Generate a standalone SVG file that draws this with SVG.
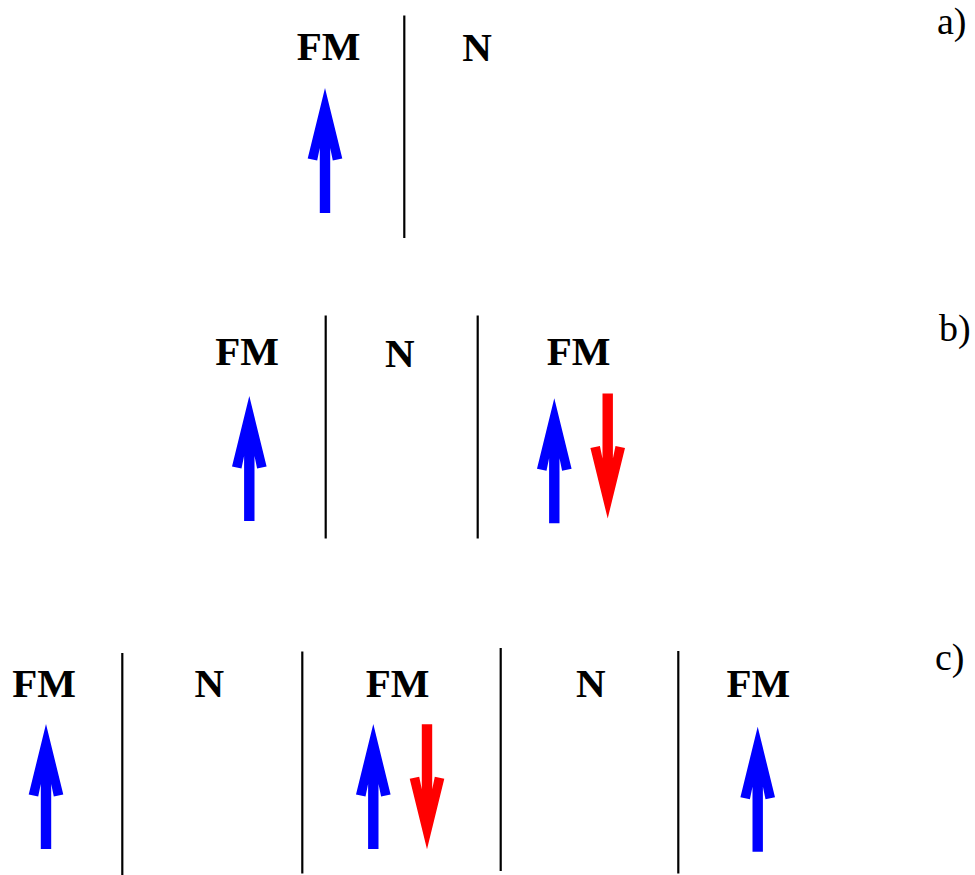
<svg xmlns="http://www.w3.org/2000/svg" width="975" height="875" viewBox="0 0 975 875">
<style>
.lbl{font-family:'Liberation Serif','DejaVu Serif',serif;font-weight:bold;font-size:41px;text-anchor:middle;fill:#000}
.tag{font-family:'Liberation Serif','DejaVu Serif',serif;font-size:38px;fill:#000}
.wall{stroke:#000;stroke-width:2.2;fill:none}
.up{fill:#0000ff}
.dn{fill:#ff0000}
</style>
<defs>
<path id="arr" d="M0,0 L17.3,70.5 L7.8,72.5 L5.2,60 L5.2,125 L-5.2,125 L-5.2,60 L-7.8,72.5 L-17.3,70.5 Z"/>
</defs>
<rect width="975" height="875" fill="#fff"/>

<g id="panel-a">
  <g id="a-walls">
    <line class="wall" x1="404.3" y1="15.5" x2="404.3" y2="238"/>
  </g>
  <g id="a-FM">
    <text class="lbl" x="328.7" y="60">FM</text>
    <use href="#arr" class="up" transform="translate(325,88)"/>
  </g>
  <g id="a-N"><text class="lbl" x="477" y="61">N</text></g>
  <text class="tag" x="937" y="33.5">a)</text>
</g>

<g id="panel-b">
  <g id="b-walls">
    <line class="wall" x1="325.7" y1="315.5" x2="325.7" y2="538.5"/>
    <line class="wall" x1="477.7" y1="315.5" x2="477.7" y2="538.5"/>
  </g>
  <g id="b-FM1">
    <text class="lbl" x="247.2" y="364.5">FM</text>
    <use href="#arr" class="up" transform="translate(249.3,396)"/>
  </g>
  <g id="b-N"><text class="lbl" x="399.7" y="366.5">N</text></g>
  <g id="b-FM2">
    <text class="lbl" x="578.5" y="365">FM</text>
    <use href="#arr" class="up" transform="translate(554.3,398.3)"/>
    <use href="#arr" class="dn" transform="translate(607.7,518.5) scale(1,-1)"/>
  </g>
  <text class="tag" x="939" y="341">b)</text>
</g>

<g id="panel-c">
  <g id="c-walls">
    <line class="wall" x1="122.3" y1="653" x2="122.3" y2="875"/>
    <line class="wall" x1="302.3" y1="651.5" x2="302.3" y2="873.5"/>
    <line class="wall" x1="500.7" y1="648" x2="500.7" y2="871"/>
    <line class="wall" x1="678.3" y1="651" x2="678.3" y2="873.5"/>
  </g>
  <g id="c-FM1">
    <text class="lbl" x="44.2" y="696.7">FM</text>
    <use href="#arr" class="up" transform="translate(46,724)"/>
  </g>
  <g id="c-N1"><text class="lbl" x="209.3" y="696.7">N</text></g>
  <g id="c-FM2">
    <text class="lbl" x="397.5" y="696.7">FM</text>
    <use href="#arr" class="up" transform="translate(373.3,724)"/>
    <use href="#arr" class="dn" transform="translate(427,849.3) scale(1,-1)"/>
  </g>
  <g id="c-N2"><text class="lbl" x="590.8" y="696.7">N</text></g>
  <g id="c-FM3">
    <text class="lbl" x="758.3" y="696.7">FM</text>
    <use href="#arr" class="up" transform="translate(757.7,726.7)"/>
  </g>
  <text class="tag" x="935" y="670">c)</text>
</g>
</svg>
